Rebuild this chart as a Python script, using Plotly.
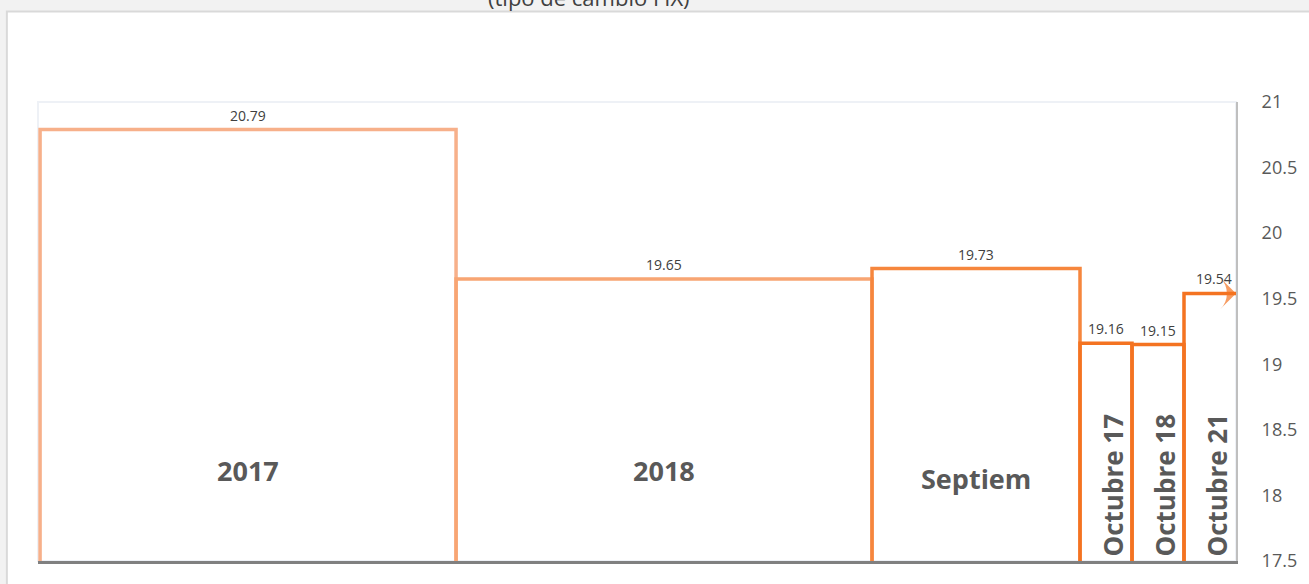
import plotly.graph_objects as go
import numpy as np

# ---- data ----
categories = ["2017", "2018", "Septiem", "Octubre 17", "Octubre 18", "Octubre 21"]
values = [20.79, 19.65, 19.73, 19.16, 19.15, 19.54]
spans = [8, 8, 4, 1, 1, 1]          # relative period length of each step
value_labels = ["20.79", "19.65", "19.73", "19.16", "19.15", "19.54"]
y_ticks = [17.5, 18, 18.5, 19, 19.5, 20, 20.5, 21]
y_tick_labels = ["17.5", "18", "18.5", "19", "19.5", "20", "20.5", "21"]
title_text = "(tipo de cambio FIX)"

colors = ["#F7B08A", "#F8A573", "#F6863D", "#F47321", "#F47321", "#F47321"]
rotated = [False, False, False, True, True, True]

base = y_ticks[0]
edges = np.concatenate([[0], np.cumsum(spans)])
n = len(values)

fig = go.Figure()

for i in range(n):
    xl, xr, v = edges[i], edges[i + 1], values[i]
    if i < n - 1:
        fig.add_trace(go.Scatter(
            x=[xl, xl, xr, xr], y=[base, v, v, base], mode="lines",
            line=dict(color=colors[i], width=3.5), hoverinfo="skip"))
    else:
        fig.add_trace(go.Scatter(
            x=[xl, xl, xr], y=[base, v, v], mode="lines+markers",
            line=dict(color=colors[i], width=3.5),
            marker=dict(symbol=["circle", "circle", "arrow-wide"], size=[0, 0, 22],
                        angleref="previous", color=colors[i], line=dict(width=0)),
            cliponaxis=False, hoverinfo="skip"))

centers = (edges[:-1] + edges[1:]) / 2
annotations = []
for i in range(n):
    annotations.append(dict(
        x=centers[i], y=values[i], xref="x", yref="y", text=value_labels[i],
        showarrow=False, yanchor="bottom", yshift=3,
        xshift=4 if i == n - 1 else 0,
        font=dict(family="Open Sans", size=14, color="#404040")))
    if rotated[i]:
        annotations.append(dict(
            x=centers[i], y=base, xref="x", yref="y", text="<b>%s</b>" % categories[i],
            showarrow=False, textangle=-90, yanchor="bottom", xshift=6, yshift=2,
            font=dict(family="Open Sans", size=26, color="#595959")))
    else:
        annotations.append(dict(
            x=centers[i], y=18.19 if i < 2 else 18.13, xref="x", yref="y",
            text="<b>%s</b>" % categories[i], showarrow=False,
            font=dict(family="Open Sans", size=27, color="#595959")))

annotations.append(dict(
    x=0.46, y=1.229, xref="paper", yref="paper", text=title_text, showarrow=False,
    yanchor="middle", font=dict(family="Open Sans", size=22, color="#404040")))

shapes = [
    dict(type="rect", xref="paper", yref="paper", x0=-0.026, x1=1.2, y0=-0.2, y1=1.197,
         fillcolor="white", line=dict(color="#D9D9D9", width=2), layer="below"),
    dict(type="rect", xref="paper", yref="paper", x0=0, x1=1, y0=0, y1=1,
         fillcolor="rgba(0,0,0,0)", line=dict(color="#EEF1F6", width=2), layer="below"),
]

fig.update_layout(
    width=1309, height=584,
    margin=dict(l=38, r=72, t=102, b=19),
    paper_bgcolor="#F2F2F2", plot_bgcolor="rgba(0,0,0,0)",
    showlegend=False, hovermode=False,
    annotations=annotations, shapes=shapes,
    xaxis=dict(range=[-0.04, edges[-1]], showticklabels=False, showgrid=False,
               zeroline=False, showline=True, linecolor="#808080", linewidth=3,
               fixedrange=True),
    yaxis=dict(range=[y_ticks[0], y_ticks[-1]], side="right", tickvals=y_ticks,
               ticktext=y_tick_labels, showgrid=False, zeroline=False,
               showline=True, linecolor="#BFBFBF", linewidth=2, ticks="",
               ticklabelstandoff=20,
               tickfont=dict(family="Open Sans", size=18, color="#595959"),
               fixedrange=True),
)

fig.write_html(
    "out.html",
    config={"displayModeBar": False},
    post_script="document.body.style.margin='0';document.body.style.overflow='hidden';",
)
